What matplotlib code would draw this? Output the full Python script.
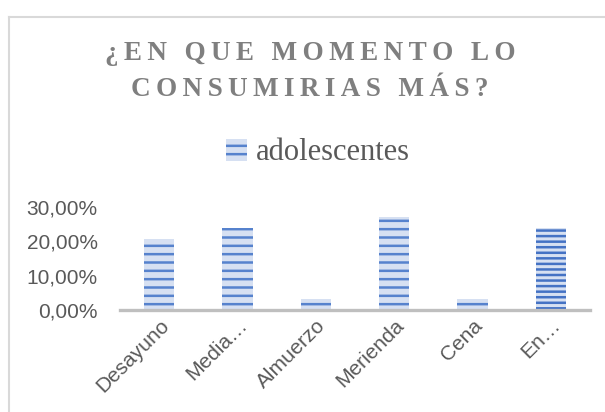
import matplotlib
matplotlib.use('Agg')
import matplotlib.pyplot as plt
from matplotlib import ticker
from matplotlib.lines import Line2D
import matplotlib.patches as mpatches

# datos
categorias = ['Desayuno', 'Media…', 'Almuerzo', 'Merienda', 'Cena', 'En…']
adolescentes = [0.2063, 0.2381, 0.0317, 0.2698, 0.0317, 0.2381]
serie = 'adolescentes'
titulo = ['¿EN QUE MOMENTO LO', 'CONSUMIRIAS MÁS?']

GRIS_TXT = '#595959'
GRIS_TIT = '#7f7f7f'
AZUL = '#5682cd'
AZUL_CLARO = '#d6e0f2'

plt.rcParams['hatch.linewidth'] = 1.8

fig = plt.figure(figsize=(6.05, 4.12), dpi=100)
ax = fig.add_axes([120 / 605, 1 - 310 / 412, 470 / 605, 103 / 412])

x = range(len(categorias))
bars = ax.bar(x, adolescentes, width=0.39, color=AZUL_CLARO, edgecolor=AZUL,
              linewidth=0, hatch='--', zorder=2)
bars[-1].set_hatch('---')
bars[-1].set_edgecolor('#4472c4')

ax.set_xlim(-0.5, len(categorias) - 0.5)
ax.set_ylim(0, 0.30)
ax.yaxis.set_major_locator(ticker.MultipleLocator(0.10))
ax.yaxis.set_major_formatter(ticker.FuncFormatter(lambda v, p: ('%.2f%%' % (v * 100)).replace('.', ',')))

for s in ['top', 'right', 'left']:
    ax.spines[s].set_visible(False)
ax.spines['bottom'].set_color('#bfbfbf')
ax.spines['bottom'].set_linewidth(2.4)
ax.tick_params(length=0)
ax.tick_params(axis='y', pad=16)
ax.tick_params(axis='x', pad=4)
ax.set_xticks(list(x))
ax.set_xticklabels(categorias, rotation=45, ha='right', rotation_mode='anchor')
for lab in ax.get_xticklabels() + ax.get_yticklabels():
    lab.set_fontfamily('Liberation Sans')
    lab.set_fontsize(15)
    lab.set_color(GRIS_TXT)

# titulo con espaciado entre letras
for i, linea in enumerate(titulo):
    txt = '\u2009 \u2009'.join('\u2009'.join(w) for w in linea.split(' '))
    fig.text(310 / 605, 1 - (54 + 35 * i) / 412, txt, ha='center', va='center',
             fontfamily=['Liberation Serif', 'DejaVu Serif'], fontweight='bold',
             fontsize=19.5, color=GRIS_TIT)

# leyenda
handle = mpatches.Patch(facecolor=AZUL_CLARO, hatch='--', edgecolor=AZUL, linewidth=0,
                        label=serie)
leg = fig.legend(handles=[handle], loc='center', bbox_to_anchor=(318 / 605, 1 - 153 / 412),
                 frameon=False, handlelength=0.7, handleheight=0.7, handletextpad=0.3,
                 prop={'family': 'Liberation Serif', 'size': 22})
for t in leg.get_texts():
    t.set_color(GRIS_TXT)

# borde del area del grafico
fig.add_artist(Line2D([9 / 605, 9 / 605], [0, 1 - 17 / 412], transform=fig.transFigure,
                      color='#d9d9d9', lw=1.5))
fig.add_artist(Line2D([9 / 605, 1], [1 - 17 / 412, 1 - 17 / 412], transform=fig.transFigure,
                      color='#d9d9d9', lw=1.5))

fig.savefig('out.png', dpi=100, facecolor='white')
